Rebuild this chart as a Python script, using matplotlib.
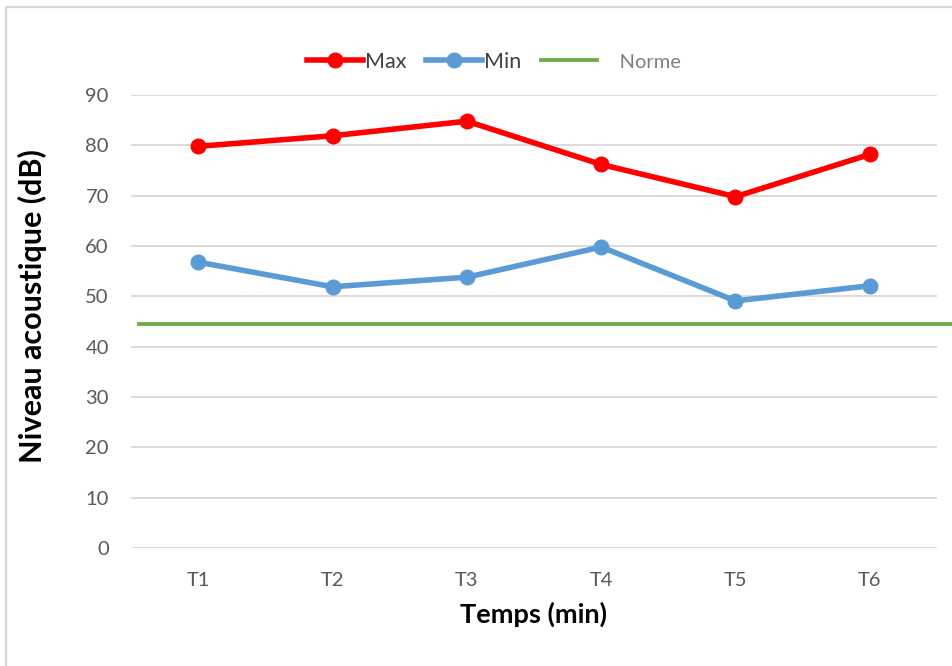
import matplotlib
matplotlib.use("Agg")
import matplotlib.pyplot as plt
from matplotlib.patches import Rectangle

categories = ["T1", "T2", "T3", "T4", "T5", "T6"]
max_vals = [79.8, 81.9, 84.8, 76.2, 69.8, 78.2]
min_vals = [56.8, 51.9, 53.8, 59.8, 49.1, 52.1]
norme = 44.6
y_ticks = [0, 10, 20, 30, 40, 50, 60, 70, 80, 90]

plt.rcParams['font.family'] = ['Lato', 'DejaVu Sans']

W, H = 952, 666
fig = plt.figure(figsize=(W / 100, H / 100), dpi=100)

# light chart frame
fig.patches.append(Rectangle((6 / W, -0.2), 2, 1.2 - 7 / H, transform=fig.transFigure,
                             fill=False, edgecolor='#d9d9d9', linewidth=1.6, zorder=0))

left, right = 131 / W, 937 / W
bottom, top = 1 - 548 / H, 1 - 95 / H
ax = fig.add_axes([left, bottom, right - left, top - bottom])

x = list(range(len(categories)))
red = '#ff0000'
blue = '#5b9bd5'
green = '#70ad47'

l_max, = ax.plot(x, max_vals, color=red, lw=4.0, marker='o', ms=10.5, label='Max', zorder=4)
l_min, = ax.plot(x, min_vals, color=blue, lw=4.0, marker='o', ms=10.5, label='Min', zorder=4)
l_norme = ax.axhline(norme, xmin=(139 - 131) / 806, xmax=(952 - 131) / 806, color=green,
                     lw=2.8, clip_on=False, label='    Norme', zorder=3)

ax.set_xlim(-0.5, len(categories) - 0.5)
ax.set_ylim(0, 90)
ax.set_yticks(y_ticks)
ax.set_xticks(x)
ax.set_xticklabels(categories)
ax.grid(axis='y', color='#d9d9d9', lw=1.3)
ax.set_axisbelow(True)
for s in ax.spines.values():
    s.set_visible(False)
ax.tick_params(axis='both', length=0, labelsize=14.5, labelcolor='#595959')
ax.tick_params(axis='y', pad=16)
ax.tick_params(axis='x', pad=17)

ax.set_xlabel('Temps (min)', fontsize=19.5, fontweight='bold', color='black')
ax.set_ylabel('Niveau acoustique (dB)', fontsize=22, fontweight='bold', color='black')
ax.xaxis.set_label_coords(0.5, -0.118)
ax.yaxis.set_label_coords(-0.104, 0.535)

leg = fig.legend(handles=[l_max, l_min, l_norme], loc='center', bbox_to_anchor=(494 / W, 1 - 62 / H),
                 ncol=3, frameon=False, fontsize=15.5, handlelength=2.6, handletextpad=0.1,
                 columnspacing=0.9)
texts = leg.get_texts()
texts[0].set_color('#404040')
texts[1].set_color('#404040')
texts[2].set_color('#808080')
texts[2].set_fontsize(14.5)

fig.savefig('out.png', dpi=100)
